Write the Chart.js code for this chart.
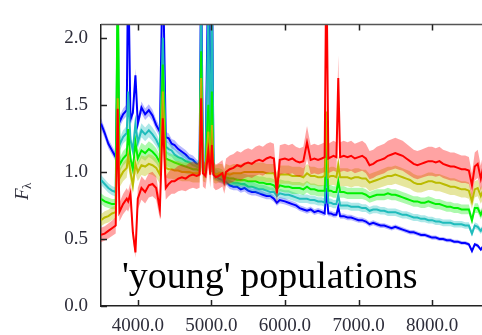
<!DOCTYPE html>
<html>
<head>
<meta charset="utf-8">
<script src="https://cdn.jsdelivr.net/npm/chart.js@4.4.0/dist/chart.umd.min.js"></script>
<style>
  html, body { margin: 0; padding: 0; background: #fff; overflow: hidden; }
  #wrap { width: 482px; height: 335px; overflow: hidden; }
</style>
</head>
<body>
<div id="wrap"><canvas id="c" width="488" height="335"></canvas></div>
<script>
// wavelength grid (Angstrom), rows of 10
const wavelength = [
  3500, 3550, 3600, 3650, 3700, 3727, 3750, 3800, 3850, 3869,
  3900, 3933, 3968, 4000, 4050, 4100, 4150, 4200, 4250, 4300,
  4340, 4380, 4420, 4460, 4500, 4550, 4600, 4650, 4700, 4750,
  4800, 4840, 4861, 4885, 4920, 4959, 4985, 5007, 5030, 5060,
  5100, 5150, 5175, 5200, 5250, 5300, 5350, 5400, 5450, 5500,
  5550, 5600, 5650, 5700, 5750, 5800, 5850, 5890, 5930, 6000,
  6050, 6100, 6150, 6200, 6250, 6300, 6350, 6400, 6450, 6500,
  6540, 6563, 6590, 6625, 6660, 6700, 6725, 6750, 6800, 6850,
  6900, 6950, 7000, 7050, 7100, 7150, 7200, 7250, 7300, 7350,
  7400, 7450, 7500, 7550, 7600, 7650, 7700, 7750, 7800, 7850,
  7900, 7950, 8000, 8050, 8100, 8150, 8200, 8250, 8300, 8350,
  8400, 8450, 8500, 8542, 8580, 8620, 8662, 8700
];

const fluxBlue = [
  1.36, 1.29, 1.21, 1.16, 1.11, 1.75, 1.37, 1.43, 1.46, 2.60,
  1.39, 1.44, 1.72, 1.36, 1.48, 1.43, 1.46, 1.42, 1.35, 1.30,
  2.60, 1.26, 1.25, 1.21, 1.20, 1.17, 1.15, 1.13, 1.10, 1.09,
  1.06, 1.05, 2.60, 1.03, 1.01, 2.60, 1.00, 2.60, 0.98, 0.97,
  0.95, 0.94, 0.92, 0.93, 0.90, 0.89, 0.89, 0.87, 0.88, 0.86,
  0.85, 0.85, 0.84, 0.83, 0.82, 0.82, 0.80, 0.77, 0.79, 0.78,
  0.77, 0.76, 0.75, 0.73, 0.72, 0.71, 0.72, 0.70, 0.71, 0.70,
  0.69, 0.88, 0.69, 0.69, 0.68, 0.68, 0.74, 0.67, 0.67, 0.66,
  0.66, 0.65, 0.64, 0.64, 0.63, 0.61, 0.62, 0.61, 0.60, 0.60,
  0.59, 0.58, 0.59, 0.58, 0.57, 0.56, 0.55, 0.55, 0.54, 0.53,
  0.53, 0.52, 0.51, 0.51, 0.50, 0.50, 0.49, 0.49, 0.48, 0.48,
  0.47, 0.47, 0.46, 0.41, 0.46, 0.45, 0.42, 0.45
];

const fluxCyan = [
  0.94, 0.91, 0.88, 0.86, 0.85, 2.30, 1.20, 1.26, 1.29, 1.60,
  1.24, 1.16, 1.36, 1.22, 1.31, 1.28, 1.31, 1.28, 1.24, 1.18,
  2.00, 1.19, 1.17, 1.16, 1.13, 1.11, 1.10, 1.08, 1.07, 1.05,
  1.04, 1.03, 2.30, 1.02, 1.01, 2.20, 1.00, 2.40, 0.99, 0.98,
  0.97, 0.96, 0.94, 0.95, 0.93, 0.92, 0.92, 0.91, 0.91, 0.89,
  0.89, 0.88, 0.87, 0.87, 0.86, 0.85, 0.85, 0.82, 0.84, 0.83,
  0.83, 0.82, 0.81, 0.80, 0.80, 0.80, 0.79, 0.79, 0.78, 0.78,
  0.77, 1.05, 0.77, 0.77, 0.76, 0.76, 0.83, 0.75, 0.75, 0.75,
  0.74, 0.74, 0.74, 0.73, 0.73, 0.71, 0.72, 0.72, 0.71, 0.71,
  0.70, 0.70, 0.70, 0.69, 0.68, 0.68, 0.67, 0.66, 0.66, 0.65,
  0.65, 0.64, 0.64, 0.63, 0.63, 0.62, 0.62, 0.62, 0.61, 0.61,
  0.61, 0.60, 0.60, 0.54, 0.60, 0.59, 0.56, 0.59
];

const fluxGreen = [
  0.80, 0.78, 0.77, 0.76, 0.76, 2.50, 1.05, 1.10, 1.13, 1.32,
  1.10, 1.02, 1.22, 1.10, 1.16, 1.14, 1.17, 1.15, 1.12, 1.07,
  1.80, 1.10, 1.09, 1.08, 1.07, 1.06, 1.05, 1.04, 1.03, 1.02,
  1.02, 1.01, 1.90, 1.01, 1.00, 1.50, 1.00, 1.60, 0.99, 0.98,
  0.98, 0.97, 0.95, 0.96, 0.95, 0.95, 0.94, 0.94, 0.94, 0.93,
  0.93, 0.93, 0.92, 0.92, 0.91, 0.91, 0.90, 0.87, 0.90, 0.89,
  0.89, 0.88, 0.88, 0.88, 0.87, 0.89, 0.87, 0.87, 0.86, 0.86,
  0.86, 1.25, 0.86, 0.86, 0.85, 0.85, 0.93, 0.85, 0.85, 0.84,
  0.84, 0.84, 0.84, 0.84, 0.83, 0.81, 0.82, 0.83, 0.83, 0.83,
  0.84, 0.83, 0.83, 0.82, 0.81, 0.80, 0.79, 0.78, 0.78, 0.77,
  0.77, 0.78, 0.77, 0.76, 0.76, 0.75, 0.74, 0.74, 0.73, 0.73,
  0.72, 0.72, 0.72, 0.64, 0.73, 0.73, 0.68, 0.73
];

const fluxOlive = [
  0.64, 0.66, 0.67, 0.69, 0.70, 1.55, 0.95, 1.00, 1.03, 1.12,
  1.00, 0.90, 1.06, 1.00, 1.05, 1.04, 1.06, 1.05, 1.03, 0.98,
  1.60, 1.03, 1.02, 1.02, 1.01, 1.01, 1.00, 1.00, 1.00, 0.99,
  0.99, 0.99, 1.70, 1.00, 0.99, 1.30, 0.99, 1.35, 0.99, 0.98,
  0.99, 0.99, 0.95, 0.99, 0.98, 0.99, 0.99, 0.99, 1.00, 1.00,
  1.00, 1.00, 1.00, 1.00, 0.99, 0.99, 0.99, 0.93, 0.98, 0.98,
  0.98, 0.97, 0.97, 0.97, 0.96, 0.99, 0.97, 0.97, 0.96, 0.96,
  0.97, 1.45, 0.96, 0.97, 0.97, 0.96, 1.05, 0.96, 0.96, 0.96,
  0.95, 0.96, 0.96, 0.95, 0.95, 0.92, 0.93, 0.94, 0.95, 0.96,
  0.97, 0.97, 0.98, 0.97, 0.96, 0.95, 0.94, 0.92, 0.91, 0.91,
  0.92, 0.93, 0.93, 0.92, 0.92, 0.91, 0.90, 0.89, 0.89, 0.88,
  0.87, 0.87, 0.86, 0.78, 0.87, 0.88, 0.82, 0.87
];

const fluxRed = [
  0.53, 0.54, 0.56, 0.58, 0.60, 1.47, 0.70, 0.76, 0.80, 0.78,
  0.84, 0.55, 0.40, 0.80, 0.88, 0.85, 0.90, 0.91, 0.88, 0.72,
  1.40, 0.88, 0.91, 0.93, 0.93, 0.95, 0.96, 0.95, 0.97, 0.98,
  0.97, 0.98, 1.55, 0.99, 0.97, 1.15, 0.98, 1.20, 0.98, 0.96,
  0.97, 0.99, 0.93, 1.00, 1.02, 1.03, 1.05, 1.04, 1.06, 1.07,
  1.06, 1.08, 1.09, 1.08, 1.10, 1.11, 1.10, 0.84, 1.09, 1.10,
  1.09, 1.10, 1.08, 1.07, 1.08, 1.22, 1.09, 1.10, 1.09, 1.10,
  1.11, 2.60, 1.10, 1.11, 1.12, 1.11, 1.70, 1.11, 1.12, 1.11,
  1.12, 1.10, 1.11, 1.12, 1.10, 1.05, 1.06, 1.08, 1.09, 1.10,
  1.12, 1.13, 1.14, 1.13, 1.12, 1.10, 1.08, 1.06, 1.05, 1.06,
  1.07, 1.08, 1.08, 1.07, 1.08, 1.06, 1.05, 1.04, 1.04, 1.03,
  1.02, 1.02, 1.01, 0.90, 1.04, 1.06, 0.95, 1.05
];

// relative half-width of each shaded band
const bandFrac = { red: 0.10, olive: 0.07, green: 0.05, cyan: 0.04, blue: 0.03 };

const xTicks = [4000, 5000, 6000, 7000, 8000];
const yTicks = [0.0, 0.5, 1.0, 1.5, 2.0];
const label = "'young' populations";

const serif = "'Liberation Serif', 'DejaVu Serif', serif";
Chart.defaults.font.family = serif;
const tickFont = { family: serif, size: 19 };
const tickColor = '#2d2d3a';

// red first so it ends up drawn on top
const series = [
  { flux: fluxRed,   line: '#ff0000', band: 'rgba(255,0,0,0.36)',   frac: bandFrac.red },
  { flux: fluxOlive, line: '#bbbb00', band: 'rgba(190,190,0,0.38)', frac: bandFrac.olive },
  { flux: fluxGreen, line: '#00f000', band: 'rgba(0,235,0,0.32)',   frac: bandFrac.green },
  { flux: fluxCyan,  line: '#20bcbc', band: 'rgba(0,185,185,0.32)', frac: bandFrac.cyan },
  { flux: fluxBlue,  line: '#0000ff', band: 'rgba(0,0,255,0.28)',   frac: bandFrac.blue }
];

const datasets = [];
series.forEach(s => {
  const pts = k => wavelength.map((w, i) => ({ x: w, y: s.flux[i] * k }));
  datasets.push({ data: pts(1), borderColor: s.line, borderWidth: 2, pointRadius: 0, fill: false });
  datasets.push({ data: pts(1 + s.frac), borderWidth: 0, pointRadius: 0, backgroundColor: s.band, fill: '+1' });
  datasets.push({ data: pts(1 - s.frac), borderWidth: 0, pointRadius: 0, fill: false });
});

const frame = {
  id: 'frame',
  afterDraw(chart) {
    const { ctx, chartArea: a, scales: { x, y } } = chart;
    ctx.save();
    ctx.strokeStyle = '#555';
    ctx.lineWidth = 1.5;
    ctx.beginPath();
    ctx.moveTo(a.left, a.top);
    ctx.lineTo(a.right, a.top);
    ctx.stroke();

    ctx.strokeStyle = '#222';
    ctx.beginPath();
    xTicks.forEach(v => {
      const px = Math.round(x.getPixelForValue(v)) + 0.5;
      ctx.moveTo(px, a.bottom); ctx.lineTo(px, a.bottom - 6);
      ctx.moveTo(px, a.top); ctx.lineTo(px, a.top + 6);
    });
    yTicks.forEach(v => {
      const py = Math.round(y.getPixelForValue(v)) + 0.5;
      ctx.moveTo(a.left, py); ctx.lineTo(a.left + 6, py);
    });
    ctx.stroke();

    // y axis title F_lambda
    ctx.fillStyle = '#2d2d3a';
    ctx.translate(23, 190);
    ctx.rotate(-Math.PI / 2);
    ctx.textBaseline = 'middle';
    ctx.textAlign = 'left';
    ctx.font = 'italic 19px ' + serif;
    ctx.fillText('F', -10, 0);
    ctx.font = '13px ' + serif;
    ctx.fillText('λ', 1, 5);
    ctx.restore();

    ctx.save();
    ctx.fillStyle = '#000';
    ctx.font = '38px ' + serif;
    ctx.textBaseline = 'alphabetic';
    ctx.fillText(label, 122, 288);
    ctx.restore();
  }
};

new Chart(document.getElementById('c'), {
  type: 'line',
  data: { datasets },
  plugins: [frame],
  options: {
    responsive: false,
    animation: false,
    layout: { padding: { left: 0, right: 0, top: 11, bottom: 0 } },
    plugins: { legend: { display: false }, tooltip: { enabled: false } },
    elements: { line: { tension: 0 } },
    scales: {
      x: {
        type: 'linear',
        min: 3500,
        max: 8760,
        afterBuildTicks: s => { s.ticks = xTicks.map(v => ({ value: v })); },
        afterFit: s => { s.height = 29; },
        grid: { display: false, drawTicks: false },
        border: { display: true, color: '#222', width: 1.5 },
        ticks: { font: tickFont, color: tickColor, padding: 9, maxRotation: 0, callback: v => v.toFixed(1) }
      },
      y: {
        min: 0,
        max: 2.1,
        afterBuildTicks: s => { s.ticks = yTicks.map(v => ({ value: v })); },
        afterFit: s => { s.width = 101; },
        grid: { display: false, drawTicks: false },
        border: { display: true, color: '#222', width: 1.5 },
        ticks: { font: tickFont, color: tickColor, padding: 13, callback: v => v.toFixed(1) }
      }
    }
  }
});
</script>
</body>
</html>
